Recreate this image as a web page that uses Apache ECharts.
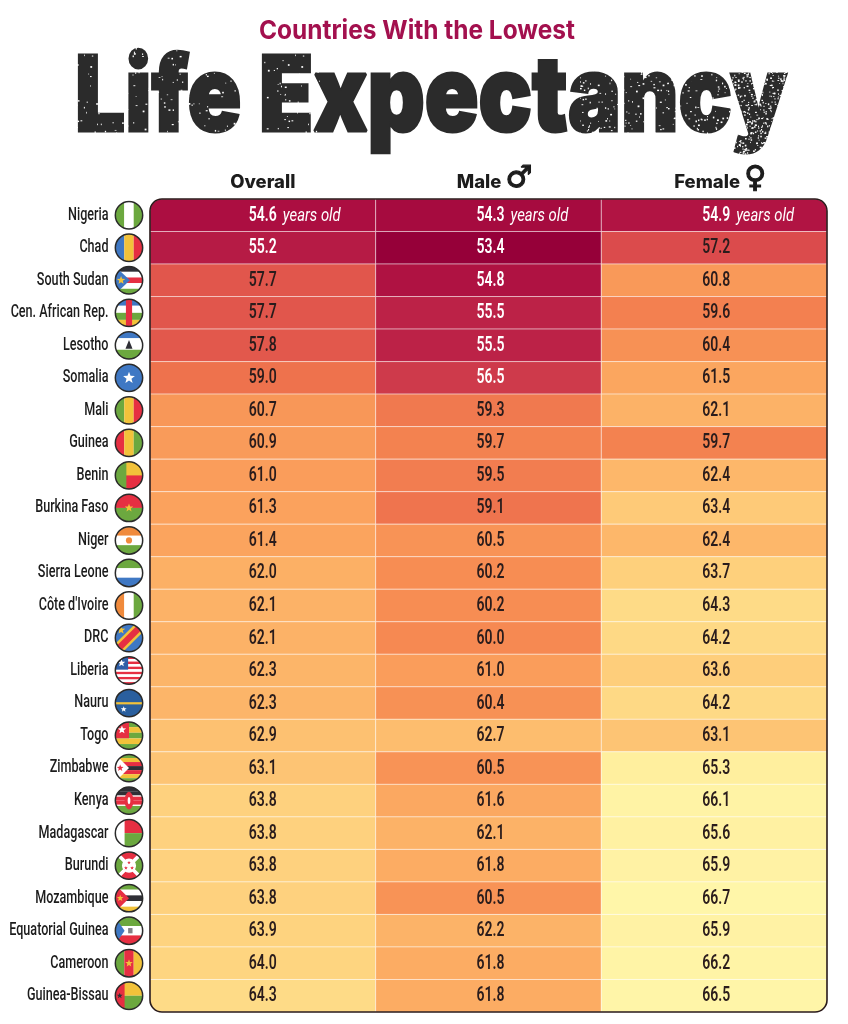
<!DOCTYPE html>
<html lang="en">
<head>
<meta charset="UTF-8">
<title>Countries With the Lowest Life Expectancy</title>
<script src="https://cdn.jsdelivr.net/npm/echarts@6/dist/echarts.min.js"></script>
<style>
html, body { margin: 0; padding: 0; background: #fff; }
#chart { width: 848px; height: 1024px; }
</style>
</head>
<body>
<div id="chart"></div>
<script>
var countries = ['Nigeria', 'Chad', 'South Sudan', 'Cen. African Rep.', 'Lesotho', 'Somalia', 'Mali', 'Guinea', 'Benin', 'Burkina Faso', 'Niger', 'Sierra Leone', "Côte d'Ivoire", 'DRC', 'Liberia', 'Nauru', 'Togo', 'Zimbabwe', 'Kenya', 'Madagascar', 'Burundi', 'Mozambique', 'Equatorial Guinea', 'Cameroon', 'Guinea-Bissau'];
var columns = ['Overall', 'Male', 'Female'];
var overall = [54.6, 55.2, 57.7, 57.7, 57.8, 59.0, 60.7, 60.9, 61.0, 61.3, 61.4, 62.0, 62.1, 62.1, 62.3, 62.3, 62.9, 63.1, 63.8, 63.8, 63.8, 63.8, 63.9, 64.0, 64.3];
var male = [54.3, 53.4, 54.8, 55.5, 55.5, 56.5, 59.3, 59.7, 59.5, 59.1, 60.5, 60.2, 60.2, 60.0, 61.0, 60.4, 62.7, 60.5, 61.6, 62.1, 61.8, 60.5, 62.2, 61.8, 61.8];
var female = [54.9, 57.2, 60.8, 59.6, 60.4, 61.5, 62.1, 59.7, 62.4, 63.4, 62.4, 63.7, 64.3, 64.2, 63.6, 64.2, 63.1, 65.3, 66.1, 65.6, 65.9, 66.7, 65.9, 66.2, 66.5];
var heatColors = ['#960039', '#ae1042', '#c62f4a', '#de504c', '#ec6b4c', '#f68a52', '#fba45e', '#fdbd6e', '#fed681', '#fff0a0', '#fff6a9'];

var G = '#6ca83f', Y = '#f2c23a', R = '#e62f42', B = '#3f78c4', K = '#2f2f36', W = '#ffffff';

// flag helpers, all drawn on a 32x32 box
function vs(c) {
    var s = '', w = 32 / c.length;
    c.forEach(function (col, i) { s += '<rect x="' + i * w + '" y="0" width="' + w + '" height="32" fill="' + col + '"/>'; });
    return s;
}
function hs(c) {
    var s = '', h = 32 / c.length;
    c.forEach(function (col, i) { s += '<rect x="0" y="' + i * h + '" width="32" height="' + h + '" fill="' + col + '"/>'; });
    return s;
}
function star(x, y, r, col) {
    var p = [];
    for (var i = 0; i < 10; i++) {
        var a = -Math.PI / 2 + i * Math.PI / 5, q = i % 2 ? r * 0.42 : r;
        p.push((x + q * Math.cos(a)).toFixed(1) + ',' + (y + q * Math.sin(a)).toFixed(1));
    }
    return '<polygon points="' + p.join(' ') + '" fill="' + col + '"/>';
}
var flags = {
    'Nigeria': vs([G, W, G]),
    'Chad': vs([B, Y, R]),
    'South Sudan': hs([K, W, R, W, G]) + '<polygon points="0,0 17,16 0,32" fill="' + B + '"/>' + star(7, 16, 5, Y),
    'Cen. African Rep.': hs([B, W, G, Y]) + '<rect x="12.5" width="7" height="32" fill="' + R + '"/>',
    'Lesotho': hs([B, W, W, G]) + '<rect y="21" width="32" height="11" fill="' + G + '"/><polygon points="16,10 20,20 12,20" fill="' + K + '"/>',
    'Somalia': '<rect width="32" height="32" fill="' + B + '"/>' + star(16, 16, 7, W),
    'Mali': vs([G, Y, R]),
    'Guinea': vs([R, Y, G]),
    'Benin': '<rect width="32" height="32" fill="' + Y + '"/><rect y="16" width="32" height="16" fill="' + R + '"/><rect width="13" height="32" fill="' + G + '"/>',
    'Burkina Faso': hs([R, G]) + star(16, 16, 5, Y),
    'Niger': hs(['#f08a3c', W, G]) + '<circle cx="16" cy="16" r="3.5" fill="#f08a3c"/>',
    'Sierra Leone': hs([G, W, B]),
    "Côte d'Ivoire": vs(['#f08a3c', W, G]),
    'DRC': '<rect width="32" height="32" fill="' + B + '"/><polygon points="0,32 0,23 23,0 32,0 32,9 9,32" fill="' + Y + '"/><polygon points="0,32 0,27 27,0 32,0 32,5 5,32" fill="' + R + '"/>' + star(7, 7, 5, Y),
    'Liberia': hs([R, W, R, W, R, W, R, W, R, W, R]) + '<rect width="15" height="15" fill="#2f5fa8"/>' + star(7.5, 7.5, 4.5, W),
    'Nauru': '<rect width="32" height="32" fill="#2a5f9e"/><rect y="15" width="32" height="2.5" fill="' + Y + '"/>' + star(10, 23, 3.5, W),
    'Togo': hs([G, Y, G, Y, G]) + '<rect width="16" height="19" fill="' + R + '"/>' + star(8, 9.5, 5, W),
    'Zimbabwe': hs([G, Y, R, K, R, Y, G]) + '<polygon points="0,0 16,16 0,32" fill="' + W + '"/>' + star(6, 16, 4, R),
    'Kenya': hs([K, K, R, R, G, G]) + '<rect y="10" width="32" height="1.5" fill="' + W + '"/><rect y="20.5" width="32" height="1.5" fill="' + W + '"/><ellipse cx="16" cy="16" rx="5" ry="10" fill="' + R + '"/><ellipse cx="16" cy="16" rx="1.5" ry="4" fill="' + W + '"/>',
    'Madagascar': hs([R, G]) + '<rect width="11" height="32" fill="' + W + '"/>',
    'Burundi': '<rect width="32" height="32" fill="' + R + '"/><polygon points="0,0 16,16 0,32" fill="' + G + '"/><polygon points="32,0 16,16 32,32" fill="' + G + '"/><path d="M0,0 L32,32 M32,0 L0,32" stroke="' + W + '" stroke-width="4"/><circle cx="16" cy="16" r="8" fill="' + W + '"/>' + star(16, 12.5, 2.2, R) + star(12.5, 18.5, 2.2, R) + star(19.5, 18.5, 2.2, R),
    'Mozambique': hs([G, W, K, W, Y]) + '<polygon points="0,0 16,16 0,32" fill="' + R + '"/>' + star(6, 16, 4, Y),
    'Equatorial Guinea': hs([G, W, R]) + '<polygon points="0,0 11,16 0,32" fill="' + B + '"/><rect x="15" y="13" width="5" height="6" fill="' + K + '" opacity="0.6"/>',
    'Cameroon': vs([G, R, Y]) + star(16, 16, 4.5, Y),
    'Guinea-Bissau': '<rect width="32" height="16" fill="' + Y + '"/><rect y="16" width="32" height="16" fill="' + G + '"/><rect width="11" height="32" fill="' + R + '"/>' + star(5.5, 16, 3.5, K)
};
function flagSymbol(name) {
    var svg = '<svg xmlns="http://www.w3.org/2000/svg" width="64" height="64" viewBox="-1 -1 34 34">' +
        '<defs><clipPath id="c"><circle cx="16" cy="16" r="15.5"/></clipPath></defs>' +
        '<g clip-path="url(#c)">' + flags[name] + '</g>' +
        '<circle cx="16" cy="16" r="15.5" fill="none" stroke="#2a2a2a" stroke-width="1.7"/></svg>';
    return 'image://data:image/svg+xml;charset=utf-8,' + encodeURIComponent(svg);
}

// white speck tile laid over the big title for the worn look
function speckTile(size, count) {
    var cv = document.createElement('canvas');
    cv.width = cv.height = size;
    var ctx = cv.getContext('2d');
    ctx.fillStyle = '#ffffff';
    function hash(n) { var h = Math.sin(n) * 43758.5453; return h - Math.floor(h); }
    for (var i = 0; i < count; i++) {
        ctx.fillRect(hash(i + 1.3) * size, hash(i * 2.7 + 9.1) * size, 0.7 + hash(i + 5.5) * 1.3, 0.7 + hash(i + 7.7) * 1.1);
    }
    return cv;
}

var cells = [];
[overall, male, female].forEach(function (vals, c) {
    vals.forEach(function (v, r) { cells.push([c, r, v]); });
});

function renderCell(params, api) {
    var col = api.value(0), row = api.value(1), v = api.value(2);
    var p = api.coord([col, row]), s = api.size([1, 1]);
    var x = p[0] - s[0] / 2, y = p[1] - s[1] / 2;
    var tx = p[0] + (col === 0 ? 0 : 2);
    var lastR = countries.length - 1, lastC = columns.length - 1;
    var r = [
        col === 0 && row === 0 ? 12 : 0,
        col === lastC && row === 0 ? 12 : 0,
        col === lastC && row === lastR ? 12 : 0,
        col === 0 && row === lastR ? 12 : 0
    ];
    var children = [{
        type: 'rect',
        shape: { x: x, y: y, width: s[0], height: s[1], r: r },
        style: { fill: api.visual('color'), stroke: 'rgba(255,255,255,0.45)', lineWidth: 1 }
    }, {
        type: 'text',
        x: tx, y: p[1] + 0.5,
        scaleX: 0.7,
        style: {
            text: v.toFixed(1), align: 'center', verticalAlign: 'middle',
            fill: v < 57 ? '#ffffff' : '#2a1c1c', font: '600 20px Roboto'
        }
    }];
    if (row === 0) {
        children.push({
            type: 'text',
            x: tx + 20, y: p[1] + 0.5,
            scaleX: 0.78,
            style: {
                text: 'years old', align: 'left', verticalAlign: 'middle',
                fill: '#ffffff', font: 'italic 400 19px Roboto'
            }
        });
    }
    return { type: 'group', children: children };
}

function renderName(params, api) {
    var i = api.value(1), p = api.coord([0, i]);
    return {
        type: 'text',
        x: p[0] - 5.5, y: p[1],
        scaleX: 0.72,
        style: {
            text: countries[i], align: 'right', verticalAlign: 'middle',
            fill: '#1c1c1c', font: '500 17.5px Roboto'
        }
    };
}

var chart = echarts.init(document.getElementById('chart'), null, { renderer: 'canvas' });
chart.setOption({
    animation: false,
    backgroundColor: '#ffffff',
    grid: [
        { left: 150, top: 199, width: 677, height: 813, outerBoundsMode: 'none' },
        { left: 114, top: 199, width: 30, height: 813, outerBoundsMode: 'none' }
    ],
    xAxis: [{
        type: 'category',
        data: columns,
        position: 'top',
        axisLine: { show: false },
        axisTick: { show: false },
        axisLabel: {
            margin: 4,
            interval: 0,
            fontFamily: 'Inter',
            fontWeight: 800,
            fontSize: 18.5,
            lineHeight: 26,
            color: '#1c1c1c',
            formatter: function (v) {
                if (v === 'Male') return '{s| }Male {g|♂}';
                if (v === 'Female') return '{s| }Female {g|♀}';
                return v;
            },
            rich: {
                s: { width: 12, fontSize: 18.5, lineHeight: 26 },
                g: {
                    fontFamily: 'DejaVu Sans', fontWeight: 'bold', fontSize: 30, color: '#1c1c1c', lineHeight: 26,
                    textBorderColor: '#1c1c1c', textBorderWidth: 1.2, padding: [0, 0, 5, 0]
                }
            }
        }
    }, {
        type: 'value', gridIndex: 1, min: 0, max: 1, show: false
    }],
    yAxis: [{
        type: 'category',
        data: countries,
        inverse: true,
        axisLine: { show: false },
        axisTick: { show: false },
        axisLabel: { show: false }
    }, {
        type: 'category', gridIndex: 1, data: countries, inverse: true, show: false
    }],
    visualMap: {
        show: false,
        seriesIndex: 0,
        dimension: 2,
        min: 53.4,
        max: 66.7,
        inRange: { color: heatColors }
    },
    series: [{
        type: 'custom',
        coordinateSystem: 'cartesian2d',
        encode: { x: 0, y: 1 },
        data: cells,
        renderItem: renderCell,
        clip: false
    }, {
        type: 'scatter',
        xAxisIndex: 1,
        yAxisIndex: 1,
        symbolSize: 30,
        silent: true,
        itemStyle: { opacity: 1 },
        data: countries.map(function (c, i) {
            return { value: [0.5, i], symbol: flagSymbol(c) };
        })
    }, {
        type: 'custom',
        coordinateSystem: 'cartesian2d',
        xAxisIndex: 1,
        yAxisIndex: 1,
        encode: { x: 0, y: 1 },
        data: countries.map(function (c, i) { return [0, i]; }),
        renderItem: renderName,
        clip: false,
        silent: true
    }],
    graphic: [{
        type: 'rect',
        silent: true,
        z: 50,
        shape: { x: 150, y: 199, width: 677, height: 813, r: 12 },
        style: { fill: 'none', stroke: '#2a1a1a', lineWidth: 1.6 }
    }, {
        type: 'text',
        silent: true,
        x: 417, y: 31,
        scaleX: 0.94,
        style: {
            text: 'Countries With the Lowest', align: 'center', verticalAlign: 'middle',
            fill: '#a3104e', font: '700 26px Inter'
        }
    }, {
        type: 'text',
        silent: true,
        z: 10,
        x: 431, y: 99,
        scaleX: 0.845,
        style: {
            text: 'Life Expectancy', align: 'center', verticalAlign: 'middle',
            fill: '#2b2b2b', stroke: '#2b2b2b', lineWidth: 3, font: '900 105px Inter'
        }
    }, {
        type: 'rect',
        silent: true,
        z: 11,
        shape: { x: 60, y: 45, width: 260, height: 115 },
        style: { fill: { image: speckTile(211, 500), repeat: 'repeat' } }
    }, {
        type: 'rect',
        silent: true,
        z: 11,
        shape: { x: 580, y: 60, width: 220, height: 100 },
        style: { fill: { image: speckTile(173, 650), repeat: 'repeat' } }
    }, {
        type: 'rect',
        silent: true,
        z: 11,
        shape: { x: 730, y: 60, width: 70, height: 100 },
        style: { fill: { image: speckTile(101, 700), repeat: 'repeat' } }
    }]
});
</script>
</body>
</html>
